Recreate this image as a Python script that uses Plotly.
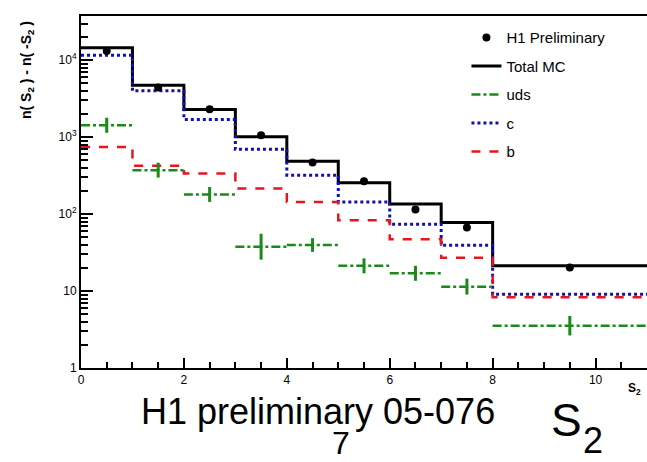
import plotly.graph_objects as go

# ---- data ----
bin_edges = [0, 1, 2, 3, 4, 5, 6, 7, 8, 11]
bin_centers = [0.5, 1.5, 2.5, 3.5, 4.5, 5.5, 6.5, 7.5, 9.5]

total_mc = [14500, 4730, 2290, 1010, 488, 255, 135, 78, 21.3]
charm = [11600, 4000, 1700, 695, 321, 144, 74, 39.5, 9.1]
beauty = [748, 425, 337, 215, 144, 83.5, 47.3, 27, 8.3]

h1_data = [13200, 4420, 2300, 1060, 470, 268, 115, 67, 20.3]

uds = [1430, 373, 180, 37.6, 39.7, 21.3, 17, 11.4, 3.55]
uds_err_up = [360, 93, 45, 18, 9, 5.3, 4.3, 3.1, 1.2]
uds_err_dn = [290, 75, 36, 12, 7.4, 4.3, 3.4, 2.4, 0.9]

y_tickvals = [1, 10, 100, 1000, 10000]
y_ticktext = ["1", "10", "10<sup>2</sup>", "10<sup>3</sup>", "10<sup>4</sup>"]

W, H = 647, 462
L, R, T, B = 81, 0, 16, 94

fig = go.Figure()

def step(vals):
    return vals + [vals[-1]]

# Total MC
fig.add_trace(go.Scatter(
    x=bin_edges, y=step(total_mc), mode="lines", line_shape="hv",
    line=dict(color="black", width=3), name="Total MC",
    legendgroup="b", legendrank=2))

# c
fig.add_trace(go.Scatter(
    x=bin_edges, y=step(charm), mode="lines", line_shape="hv",
    line=dict(color="#1010b0", width=3, dash="dot"), name="c",
    legendgroup="d", legendrank=4))

# b
fig.add_trace(go.Scatter(
    x=bin_edges, y=step(beauty), mode="lines", line_shape="hv",
    line=dict(color="#e8141e", width=2.5, dash="dash"), name="b",
    legendgroup="e", legendrank=5))

# uds horizontal bars (dash-dot)
ux, uy = [], []
for i, v in enumerate(uds):
    ux += [bin_edges[i], bin_edges[i + 1], None]
    uy += [v, v, None]
fig.add_trace(go.Scatter(
    x=ux, y=uy, mode="lines",
    line=dict(color="#1a8a1a", width=2.5, dash="dashdot"), name="uds",
    legendgroup="c", legendrank=3))
fig.add_trace(go.Scatter(
    x=bin_centers, y=uds, mode="markers",
    marker=dict(size=1, color="#1a8a1a"),
    error_y=dict(type="data", array=uds_err_up, arrayminus=uds_err_dn,
                 color="#1a8a1a", thickness=3, width=0),
    showlegend=False, legendgroup="c"))

# H1 data
fig.add_trace(go.Scatter(
    x=bin_centers, y=h1_data, mode="markers",
    marker=dict(size=8, color="black", symbol="circle"),
    name="H1 Preliminary", legendgroup="a", legendrank=1))

minor_vals = [m * 10 ** k for k in range(0, 5) for m in range(2, 10)]

fig.update_layout(
    width=W, height=H,
    margin=dict(l=L, r=R, t=T, b=B),
    paper_bgcolor="white", plot_bgcolor="white",
    font=dict(family="Liberation Sans, Arial", color="black", size=12),
    showlegend=True,
    legend=dict(x=0.681, y=0.985, xanchor="left", yanchor="top",
                bgcolor="rgba(0,0,0,0)", font=dict(size=15),
                traceorder="grouped", tracegroupgap=6, itemwidth=30),
    xaxis=dict(range=[0, 11], showgrid=False, zeroline=False,
               showline=True, linecolor="black", linewidth=2, mirror=True,
               ticks="inside", ticklen=10, tickwidth=1.5, tickcolor="black",
               dtick=2, tick0=0,
               minor=dict(ticks="inside", ticklen=6, dtick=0.5, tickcolor="black", tickwidth=1.5),
               tickfont=dict(size=12)),
    yaxis=dict(type="log", range=[0, 4.575], showgrid=False, zeroline=False,
               showline=True, linecolor="black", linewidth=2,
               ticks="inside", ticklen=12, tickwidth=1.5, tickcolor="black",
               tickvals=y_tickvals, ticktext=y_ticktext,
               minor=dict(ticks="inside", ticklen=7, tickvals=minor_vals,
                          tickcolor="black", tickwidth=1.5),
               tickfont=dict(size=12)),
)

pw = W - L - R
ph = H - T - B

def px(xp):
    return (xp - L) / pw

def py(yp):
    return (H - B - yp) / ph

annots = [
    dict(text="<b>n( S<sub>2</sub> ) - n( -S<sub>2</sub> )</b>", x=px(27), y=py(70),
         textangle=-90, font=dict(size=14)),
    dict(text="<b>S<sub>2</sub></b>", x=px(634), y=py(389), font=dict(size=12)),
    dict(text="H1 preliminary 05-076", x=px(318), y=py(411), font=dict(size=36)),
    dict(text="7", x=px(341), y=py(443), font=dict(size=32)),
    dict(text="S", x=px(566), y=py(420), font=dict(size=46)),
    dict(text="2", x=px(593), y=py(440), font=dict(size=36)),
]
for a in annots:
    fig.add_annotation(xref="paper", yref="paper", showarrow=False,
                       xanchor="center", yanchor="middle", **a)

fig.write_html("out.html")
